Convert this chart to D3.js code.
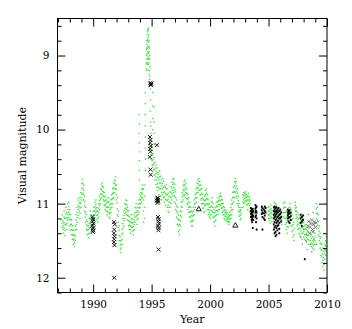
<!DOCTYPE html>
<html>
<head>
<meta charset="utf-8">
<script src="https://cdn.jsdelivr.net/npm/d3@7"></script>
<style>
  html, body { margin: 0; padding: 0; background: #fff; }
  svg { display: block; }
  text { font-family: "DejaVu Serif", serif; fill: #000; }
</style>
</head>
<body>
<svg id="chart" width="352" height="329"></svg>
<script>
// ---------------- DATA ----------------
const xMajorTicks = [1990, 1995, 2000, 2005, 2010];
const yMajorTicks = [9, 10, 11, 12];
const xLabel = "Year";
const yLabel = "Visual magnitude";

// Visual (green) estimates: [year, mag, mag, ...] several observations near the same date
const visualObs = [
[1987.35,11.15,11.22,11.27,11.32],[1987.43,11.24,11.30,11.35,11.40],[1987.51,11.10,11.18,11.26,11.33],
[1987.59,11.20,11.28,11.36,11.43],[1987.67,11.05,11.14,11.20,11.29],[1987.75,11.12,11.19,11.27,11.35],
[1987.83,11.00,11.08,11.15,11.22],[1987.91,10.98,11.04,11.12,11.19],[1987.99,11.08,11.14,11.22,11.30],
[1988.07,11.15,11.21,11.28,11.36],[1988.15,11.22,11.28,11.35,11.42],[1988.23,11.30,11.36,11.42,11.48],
[1988.31,11.36,11.43,11.49,11.55],[1988.39,11.42,11.48,11.53,11.58],[1988.47,11.30,11.36,11.44,11.50],
[1988.55,11.15,11.22,11.28,11.35],[1988.63,11.05,11.12,11.19,11.25],[1988.71,10.95,11.02,11.08,11.16],
[1988.79,10.92,10.98,11.04,11.10],[1988.87,11.00,11.06,11.13,11.20],[1988.95,10.85,10.92,10.99,11.05],
[1989.03,10.72,10.80,10.87,10.95],[1989.11,10.67,10.73,10.79,10.86],[1989.19,10.75,10.82,10.88,10.95],
[1989.27,10.90,10.97,11.03,11.10],[1989.35,11.05,11.12,11.18,11.25],[1989.43,11.15,11.22,11.28,11.35],
[1989.51,11.24,11.30,11.36,11.42],[1989.59,11.30,11.35,11.41,11.46],[1989.67,11.20,11.27,11.33,11.40],
[1989.75,11.10,11.18,11.25,11.32],[1989.83,11.15,11.22,11.30,11.38],[1989.91,11.20,11.25,11.30,11.35],
[1989.99,11.10,11.16,11.22,11.28],[1990.07,11.05,11.10,11.15,11.20],[1990.15,10.98,11.04,11.10,11.15],
[1990.23,10.95,11.01,11.07,11.12],[1990.31,11.05,11.10,11.16,11.22],[1990.39,11.10,11.15,11.20,11.25],
[1990.47,11.00,11.06,11.12,11.18],[1990.55,10.90,10.96,11.02,11.08],[1990.63,10.80,10.87,10.94,11.00],
[1990.71,10.75,10.81,10.87,10.92],[1990.79,10.72,10.77,10.83,10.88],[1990.87,10.78,10.84,10.90,10.95],
[1990.95,10.85,10.91,10.97,11.02],[1991.03,10.90,10.96,11.02,11.08],[1991.11,10.95,11.00,11.05,11.10],
[1991.19,10.98,11.04,11.10,11.15],[1991.27,10.92,10.98,11.05,11.12],[1991.35,10.98,11.05,11.12,11.18],
[1991.43,11.02,11.08,11.14,11.20],[1991.51,10.95,11.00,11.06,11.12],[1991.59,10.88,10.94,11.00,11.05],
[1991.67,10.80,10.86,10.93,11.00],[1991.75,10.72,10.79,10.86,10.92],[1991.83,10.68,10.73,10.79,10.85],
[1991.91,10.64,10.69,10.75,10.80],[1991.99,10.75,10.81,10.88,10.95],[1992.07,10.92,10.99,11.07,11.15],
[1992.15,11.10,11.17,11.25,11.32],[1992.23,11.30,11.36,11.43,11.50],[1992.31,11.45,11.50,11.56,11.62],
[1992.39,11.50,11.55,11.60,11.66],[1992.47,11.35,11.42,11.48,11.55],[1992.55,11.20,11.27,11.33,11.40],
[1992.63,11.10,11.16,11.23,11.30],[1992.71,11.00,11.07,11.13,11.20],[1992.79,10.95,11.01,11.06,11.12],
[1992.87,10.96,11.02,11.08,11.15],[1992.95,11.05,11.10,11.16,11.22],[1993.03,11.10,11.17,11.23,11.30],
[1993.11,11.18,11.24,11.29,11.35],[1993.19,11.25,11.30,11.35,11.40],[1993.27,11.15,11.21,11.26,11.32],
[1993.35,11.20,11.26,11.32,11.38],[1993.43,11.25,11.31,11.36,11.42],[1993.51,11.15,11.22,11.28,11.35],
[1993.59,11.05,11.12,11.18,11.25],[1993.67,11.00,11.06,11.12,11.18],[1993.75,11.10,11.16,11.22,11.28],
[1993.83,11.05,11.10,11.15,11.20],[1993.91,10.95,11.01,11.06,11.12],[1993.99,10.88,10.94,11.00,11.05],
[1994.07,10.85,10.90,10.95,11.00],[1994.15,10.80,10.86,10.92,10.98],[1994.23,10.75,10.81,10.87,10.92],
[1994.31,10.80,10.95,11.10,11.25],[1994.39,10.75,10.90,11.05,11.20],
[1993.95,9.80,9.92,10.05,10.18],[1993.96,10.30,10.42,10.55,10.68],
[1994.45,9.50,9.65,9.80,9.95],[1994.46,10.10,10.25,10.40,10.55],
[1994.55,8.90,9.00,9.10,9.20],[1994.58,8.80,8.92,9.05,9.18],[1994.61,8.72,8.85,8.98,9.12],
[1994.64,8.68,8.80,8.95,9.10],[1994.67,8.65,8.78,8.90,9.05],[1994.70,8.63,8.75,8.88,9.02],
[1994.73,8.66,8.82,8.97,9.12],[1994.76,8.72,8.88,9.04,9.20],[1994.79,8.80,8.95,9.10,9.25],
[1994.82,8.90,9.05,9.20,9.32],[1994.85,9.00,9.15,9.28,9.38],
[1994.90,9.45,9.60,9.75,9.90],[1994.93,9.95,10.05,10.15,10.22],
[1995.10,9.50,9.68,9.85,10.00],[1995.20,9.70,9.90,10.05,10.20],
[1994.97,10.22,10.28,10.34,10.40],[1995.05,10.28,10.35,10.42,10.48],[1995.13,10.33,10.40,10.48,10.55],
[1995.21,10.38,10.46,10.54,10.62],[1995.29,10.44,10.52,10.60,10.68],[1995.37,10.48,10.56,10.64,10.74],
[1995.45,10.52,10.60,10.68,10.78],[1995.53,10.58,10.65,10.73,10.82],[1995.61,10.60,10.68,10.78,10.88],
[1995.69,10.56,10.64,10.72,10.80],[1995.77,10.63,10.72,10.80,10.90],[1995.85,10.68,10.76,10.85,10.95],
[1995.93,10.66,10.73,10.80,10.88],[1996.01,10.70,10.78,10.85,10.92],[1996.09,10.76,10.84,10.91,10.98],
[1996.17,10.78,10.86,10.94,11.02],[1996.25,10.74,10.80,10.88,10.95],[1996.33,10.80,10.88,10.96,11.05],
[1996.41,10.86,10.94,11.02,11.10],[1996.49,10.90,10.98,11.05,11.12],[1996.57,10.84,10.91,10.98,11.05],
[1996.65,10.77,10.85,10.92,11.00],[1996.73,10.71,10.79,10.87,10.95],[1996.81,10.67,10.74,10.82,10.90],
[1996.89,10.66,10.72,10.78,10.85],[1996.97,10.74,10.81,10.90,10.98],[1997.05,10.84,10.92,11.00,11.08],
[1997.13,10.95,11.03,11.10,11.18],[1997.21,11.05,11.12,11.20,11.28],[1997.29,11.15,11.22,11.30,11.38],
[1997.37,11.22,11.28,11.35,11.42],[1997.45,11.10,11.16,11.23,11.30],[1997.53,10.98,11.04,11.11,11.18],
[1997.61,10.85,10.91,10.98,11.05],[1997.69,10.75,10.81,10.88,10.95],[1997.77,10.70,10.76,10.83,10.90],
[1997.85,10.68,10.74,10.81,10.88],[1997.93,10.72,10.78,10.85,10.92],[1998.01,10.80,10.86,10.93,11.00],
[1998.09,10.88,10.94,11.01,11.08],[1998.17,10.92,10.98,11.05,11.12],[1998.25,10.98,11.04,11.11,11.18],
[1998.33,11.05,11.11,11.18,11.25],[1998.41,11.10,11.16,11.23,11.30],[1998.49,11.12,11.17,11.24,11.30],
[1998.57,11.05,11.10,11.16,11.22],[1998.65,10.95,11.01,11.08,11.15],[1998.73,10.88,10.93,10.99,11.05],
[1998.81,10.80,10.86,10.92,10.98],[1998.89,10.72,10.78,10.85,10.92],[1998.97,10.68,10.73,10.79,10.85],
[1999.05,10.66,10.70,10.76,10.82],[1999.13,10.70,10.75,10.82,10.88],[1999.21,10.75,10.80,10.88,10.95],
[1999.29,10.80,10.86,10.93,11.00],[1999.37,10.88,10.93,11.00,11.06],[1999.45,10.95,11.00,11.06,11.12],
[1999.53,10.90,10.96,11.03,11.10],[1999.61,10.82,10.88,10.95,11.02],[1999.69,10.80,10.86,10.93,11.00],
[1999.77,10.88,10.94,11.01,11.08],[1999.85,10.95,11.01,11.08,11.15],[1999.93,11.00,11.05,11.12,11.18],
[2000.01,11.05,11.09,11.15,11.20],[2000.09,10.98,11.03,11.09,11.15],[2000.17,10.92,10.97,11.04,11.10],
[2000.25,11.00,11.05,11.12,11.18],[2000.33,11.08,11.12,11.19,11.25],[2000.41,11.12,11.17,11.24,11.30],
[2000.49,11.05,11.10,11.16,11.22],[2000.57,10.98,11.03,11.09,11.15],[2000.65,10.92,10.97,11.04,11.10],
[2000.73,10.96,11.01,11.08,11.14],[2000.81,10.90,10.95,11.02,11.08],[2000.89,10.86,10.90,10.96,11.02],
[2000.97,10.90,10.94,11.00,11.06],[2001.05,10.95,11.00,11.06,11.12],[2001.13,11.00,11.04,11.10,11.15],
[2001.21,11.05,11.09,11.15,11.20],[2001.29,11.08,11.12,11.17,11.22],[2001.37,11.10,11.13,11.18,11.22],
[2001.45,11.12,11.15,11.20,11.24],[2001.53,11.15,11.18,11.22,11.25],[2001.61,11.18,11.20,11.24,11.28],
[2001.69,11.12,11.16,11.21,11.25],[2001.77,11.05,11.10,11.15,11.20],[2001.85,10.95,11.01,11.08,11.15],
[2001.93,10.85,10.92,11.00,11.08],[2002.01,10.78,10.84,10.91,10.98],[2002.09,10.70,10.76,10.84,10.92],
[2002.17,10.66,10.72,10.79,10.85],[2002.25,10.70,10.76,10.83,10.90],[2002.33,10.80,10.86,10.93,11.00],
[2002.41,10.90,10.96,11.03,11.10],[2002.49,11.00,11.05,11.11,11.17],[2002.57,11.08,11.11,11.16,11.22],
[2002.65,11.05,11.09,11.14,11.20],[2002.81,10.88,10.92,10.98,11.05],[2002.89,10.85,10.89,10.95,11.00],
[2002.97,10.86,10.89,10.93,10.98],[2003.05,10.84,10.87,10.91,10.96],[2003.13,10.88,10.92,10.97,11.02],
[2003.21,10.90,10.95,11.01,11.08],[2003.29,10.86,10.90,10.95,11.00],[2003.37,10.92,10.97,11.03,11.10],
[2003.45,10.95,11.00,11.06,11.12],
[2004.97,11.05,11.10,11.15,11.20],[2005.05,11.04,11.10,11.16,11.22],[2005.13,11.08,11.14,11.20,11.26],
[2005.21,11.02,11.07,11.12,11.18],[2005.29,11.10,11.14,11.19,11.24],[2005.49,10.98,11.04,11.10,11.15],
[2005.57,11.00,11.06,11.12,11.18],[2005.65,11.02,11.05,11.09,11.12],[2005.89,11.05,11.10,11.15,11.20],
[2006.05,11.10,11.15,11.20,11.25],[2006.13,11.12,11.17,11.22,11.28],[2006.29,11.00,11.06,11.12,11.18],
[2006.37,10.98,11.05,11.12,11.20],[2006.45,11.05,11.12,11.20,11.28],[2006.53,11.10,11.18,11.26,11.35],
[2006.61,11.15,11.23,11.31,11.40],[2006.69,11.12,11.18,11.25,11.32],[2006.77,11.05,11.11,11.18,11.25],
[2006.85,11.00,11.06,11.13,11.20],[2006.93,11.08,11.15,11.22,11.30],[2007.01,11.15,11.22,11.30,11.38],
[2007.09,11.20,11.28,11.36,11.45],[2007.17,11.25,11.33,11.42,11.50],[2007.29,10.98,11.02,11.06,11.10],
[2007.37,11.05,11.10,11.15,11.20],[2007.45,11.12,11.18,11.24,11.30],[2007.53,11.15,11.21,11.28,11.35],
[2007.61,11.20,11.26,11.33,11.40],[2007.69,11.18,11.25,11.34,11.42],[2007.77,11.22,11.29,11.37,11.45],
[2007.85,11.25,11.32,11.40,11.48],[2007.93,11.20,11.26,11.33,11.40],[2008.01,11.25,11.31,11.38,11.45],
[2008.09,11.30,11.35,11.42,11.48],[2008.17,11.28,11.34,11.42,11.50],[2008.25,11.35,11.40,11.46,11.52],
[2008.33,11.32,11.37,11.43,11.48],[2008.41,11.38,11.43,11.49,11.55],[2008.57,11.40,11.44,11.50,11.55],
[2008.67,11.42,11.47,11.53,11.58],[2008.77,11.45,11.50,11.55,11.60],[2008.87,11.48,11.52,11.57,11.62],
[2008.97,11.40,11.45,11.50,11.55],[2009.09,11.00,11.07,11.13,11.20],[2009.17,11.05,11.13,11.22,11.30],
[2009.25,11.15,11.24,11.33,11.42],[2009.33,11.30,11.37,11.44,11.50],[2009.41,11.40,11.47,11.54,11.60],
[2009.49,11.45,11.53,11.62,11.70],[2009.57,11.55,11.63,11.72,11.80],[2009.65,11.60,11.68,11.77,11.85],
[2009.73,11.65,11.73,11.82,11.90],[2009.81,11.55,11.62,11.68,11.75],[2009.89,11.50,11.57,11.63,11.70],
[2009.95,11.45,11.52,11.58,11.65]
];

// Photoelectric / photographic estimates (black crosses): [year, mag]
const crossObs = [
[1989.95,11.18],[1990.00,11.21],[1989.97,11.24],[1990.02,11.27],[1989.95,11.30],[1990.00,11.33],[1990.02,11.36],[1989.97,11.38],
[1991.78,11.25],[1991.85,11.28],[1991.80,11.35],[1991.78,11.40],[1991.82,11.44],[1991.80,11.48],[1991.78,11.52],[1991.82,11.56],[1991.80,12.00],
[1994.90,9.37],[1994.94,9.40],[1994.92,9.39],[1994.96,9.38],
[1994.86,10.10],[1994.90,10.14],[1994.88,10.18],[1994.92,10.22],[1994.87,10.26],[1994.90,10.30],[1994.84,10.37],
[1995.44,10.21],[1994.90,10.54],[1994.92,10.61],
[1995.48,10.93],[1995.52,10.95],[1995.55,10.97],[1995.50,10.99],[1995.53,10.92],[1995.46,10.96],
[1995.55,11.18],[1995.60,11.21],[1995.58,11.24],[1995.62,11.27],[1995.56,11.30],[1995.60,11.33],[1995.58,11.36],
[1995.60,11.62]
];

// Open triangles: [year, mag]
const triangleObs = [[1999.03, 11.07], [2002.16, 11.29]];

// CCD (small black dots): [year, mag, mag, ...]
const ccdObs = [
[2003.50,11.06,11.10,11.14,11.18],[2003.55,11.08,11.12,11.17,11.22],[2003.60,11.10,11.15,11.20,11.25],
[2003.65,11.07,11.12,11.18,11.33],[2003.70,11.10,11.16,11.22],
[2003.88,11.02,11.07,11.12,11.18],[2003.93,11.05,11.10,11.16,11.25],[2003.98,11.04,11.12,11.20,11.35],
[2004.42,11.04,11.09,11.14],[2004.48,11.06,11.12,11.18,11.35],[2004.60,11.08,11.13,11.20],
[2004.68,11.04,11.10,11.16,11.22],[2004.75,11.06,11.12],
[2005.45,11.05,11.10,11.15,11.20,11.28,11.35],[2005.52,11.04,11.08,11.13,11.18,11.25,11.32,11.40],
[2005.60,11.06,11.11,11.16,11.22,11.30,11.38,11.44],[2005.68,11.05,11.10,11.14,11.20,11.26,11.33,11.42],
[2005.76,11.08,11.12,11.18,11.24,11.30,11.36],[2005.84,11.06,11.11,11.17,11.23,11.29],
[2005.92,11.10,11.15,11.20,11.26,11.34,11.40],[2006.00,11.08,11.14,11.20],[2006.08,11.12,11.18,11.24],
[2006.65,11.08,11.12,11.16,11.20],[2006.72,11.10,11.14,11.19,11.24],[2006.80,11.09,11.13,11.18,11.26],
[2006.90,11.12,11.17,11.22],
[2007.75,11.15,11.20,11.26],[2007.85,11.18,11.24,11.30],[2007.95,11.16,11.22],
[2008.10,11.75]
];

// Grey asterisks 2008-2009: [year, mag]
const greyCrossObs = [
[2008.35,11.30],[2008.45,11.24],[2008.55,11.32],[2008.62,11.27],[2008.70,11.22],[2008.75,11.35],
[2008.85,11.28],[2008.92,11.25],[2009.00,11.32],[2009.08,11.26],[2008.80,11.38],[2008.50,11.40]
];
// Grey small dots 2007-2009: [year, mag]
const greyDotObs = [
[2007.70,11.45],[2007.90,11.55],[2008.00,11.35],[2008.20,11.50],[2008.30,11.62],[2008.40,11.15],
[2008.60,11.55],[2008.70,11.65],[2008.90,11.48],[2009.10,11.55],[2008.80,11.12],[2008.25,11.42]
];

// ---------------- CHART ----------------
const svg = d3.select("#chart");
const L = 57.5, R = 327, T = 18.5, B = 292.5;
const x = d3.scaleLinear().domain([1986.95, 2010]).range([L, R]);
const y = d3.scaleLinear().domain([8.5, 12.2]).range([T, B]);

const flat = rows => rows.flatMap(r => r.slice(1).map(m => [r[0], m]));

const plot = svg.append("g");
// green visual
plot.append("g").selectAll("rect").data(flat(visualObs)).join("rect")
  .attr("x", d => x(d[0]) - 0.7).attr("y", d => y(d[1]) - 0.65)
  .attr("width", 1.4).attr("height", 1.3)
  .attr("fill", "#3ce03c");

// ccd black dots
plot.append("g").selectAll("rect").data(flat(ccdObs)).join("rect")
  .attr("x", d => x(d[0]) - 0.9).attr("y", d => y(d[1]) - 1)
  .attr("width", 1.8).attr("height", 2)
  .attr("fill", "#000");

// grey dots
plot.append("g").selectAll("rect").data(greyDotObs).join("rect")
  .attr("x", d => x(d[0]) - 0.6).attr("y", d => y(d[1]) - 0.6)
  .attr("width", 1.2).attr("height", 1.2)
  .attr("fill", "#777");

// grey asterisks
plot.append("g").selectAll("path").data(greyCrossObs).join("path")
  .attr("transform", d => `translate(${x(d[0])},${y(d[1])})`)
  .attr("d", "M-1.6,-1.6L1.6,1.6M-1.6,1.6L1.6,-1.6")
  .attr("stroke", "#666").attr("stroke-width", 0.8).attr("fill", "none");

// crosses
plot.append("g").selectAll("path").data(crossObs).join("path")
  .attr("transform", d => `translate(${x(d[0])},${y(d[1])})`)
  .attr("d", "M-2,-2L2,2M-2,2L2,-2")
  .attr("stroke", "#000").attr("stroke-width", 0.9).attr("fill", "none");

// triangles
plot.append("g").selectAll("path").data(triangleObs).join("path")
  .attr("transform", d => `translate(${x(d[0])},${y(d[1])})`)
  .attr("d", "M0,-2.5L2.6,2L-2.6,2Z")
  .attr("stroke", "#000").attr("stroke-width", 0.9).attr("fill", "none");

// ---------------- AXES ----------------
const xMinor = d3.range(1987, 2011, 1).filter(v => !xMajorTicks.includes(v));
const yMinor = d3.range(86, 123, 2).map(v => v / 10).filter(v => !yMajorTicks.includes(v));

function styleAxis(g) {
  g.select(".domain").remove();
  g.selectAll("line").attr("stroke", "#000").attr("stroke-width", 1);
  g.selectAll("text").style("font-family", "DejaVu Serif, serif").style("font-size", "10.5px").attr("fill", "#000");
}

svg.append("g").attr("transform", `translate(0,${B})`)
  .call(d3.axisBottom(x).tickValues(xMajorTicks).tickSize(-8).tickPadding(8).tickFormat(d3.format("d"))).call(styleAxis);
svg.append("g").attr("transform", `translate(0,${B})`)
  .call(d3.axisBottom(x).tickValues(xMinor).tickSize(-4).tickFormat("")).call(styleAxis);
svg.append("g").attr("transform", `translate(0,${T})`)
  .call(d3.axisTop(x).tickValues(xMajorTicks).tickSize(-8).tickFormat("")).call(styleAxis);
svg.append("g").attr("transform", `translate(0,${T})`)
  .call(d3.axisTop(x).tickValues(xMinor).tickSize(-4).tickFormat("")).call(styleAxis);

svg.append("g").attr("transform", `translate(${L},0)`)
  .call(d3.axisLeft(y).tickValues(yMajorTicks).tickSize(-8).tickPadding(8).tickFormat(d3.format("d"))).call(styleAxis);
svg.append("g").attr("transform", `translate(${L},0)`)
  .call(d3.axisLeft(y).tickValues(yMinor).tickSize(-4).tickFormat("")).call(styleAxis);
svg.append("g").attr("transform", `translate(${R},0)`)
  .call(d3.axisRight(y).tickValues(yMajorTicks).tickSize(-8).tickFormat("")).call(styleAxis);
svg.append("g").attr("transform", `translate(${R},0)`)
  .call(d3.axisRight(y).tickValues(yMinor).tickSize(-4).tickFormat("")).call(styleAxis);

svg.append("rect").attr("x", L).attr("y", T).attr("width", R - L).attr("height", B - T)
  .attr("fill", "none").attr("stroke", "#000").attr("stroke-width", 1);

svg.append("text").attr("x", (L + R) / 2).attr("y", 323).attr("text-anchor", "middle")
  .style("font-size", "11px").text(xLabel);
svg.append("text").attr("transform", `translate(26,${(T + B) / 2}) rotate(-90)`).attr("text-anchor", "middle")
  .style("font-size", "11px").text(yLabel);
</script>
</body>
</html>
